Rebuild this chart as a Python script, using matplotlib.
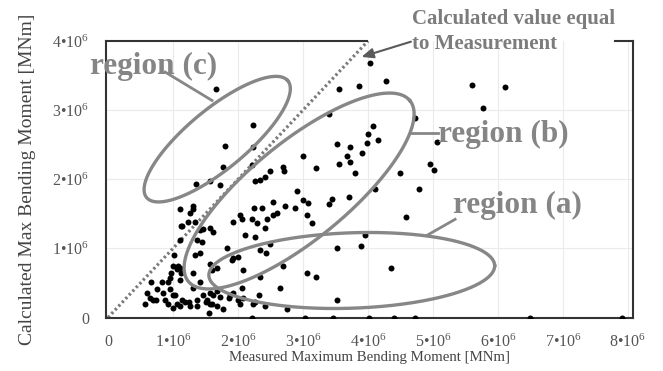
import numpy as np
import matplotlib
matplotlib.use("Agg")
import matplotlib.pyplot as plt

plt.rcParams.update({
    "font.family": ["Liberation Serif", "DejaVu Serif"],
    "mathtext.fontset": "custom",
    "mathtext.rm": "Liberation Serif",
    "mathtext.it": "Liberation Serif:italic",
    "mathtext.bf": "Liberation Serif:bold",
})

SCALE = 1e6  # values below are in units of 10^6 MNm

# Measured vs calculated maximum bending moment (x 10^6 MNm)
measured = [
    4.03, 3.55, 3.86, 4.28, 1.66, 5.60, 6.11, 5.77, 4.72, 5.06, 4.95, 5.02, 4.78, 4.11,
    3.40, 2.23, 1.80, 2.23, 1.77, 2.22, 1.35, 1.57, 1.72, 2.26, 4.08, 4.00, 3.98, 4.15,
    3.52, 3.72, 3.68, 3.91, 3.00, 3.55, 3.72, 3.20, 3.80, 4.49, 2.69, 2.71, 2.49, 2.42,
    2.34, 3.71, 3.45, 3.40, 3.00, 3.08, 3.06, 3.14, 4.58, 3.95, 3.89, 3.52, 4.35, 3.06,
    3.20, 3.52, 2.91, 2.54, 2.72, 2.88, 2.25, 2.37, 2.03, 1.92, 2.06, 2.22, 2.29, 2.45,
    2.42, 2.54, 2.11, 2.26, 1.83, 2.34, 2.43, 2.49, 1.62, 1.57, 1.46, 1.34, 1.26, 1.31,
    1.31, 1.11, 1.12, 1.37, 1.45, 1.34, 1.02, 1.00, 1.08, 0.97, 1.12, 1.31, 1.11, 0.92,
    1.11, 0.83, 0.66, 0.75, 0.60, 0.85, 0.57, 0.69, 0.88, 0.92, 1.03, 1.06, 1.11, 1.18,
    1.25, 1.37, 1.42, 1.57, 1.68, 1.51, 1.57, 1.55, 1.72, 1.68, 1.77, 1.86, 1.92, 2.00,
    2.03, 2.08, 2.26, 2.32, 2.65, 2.75, 2.69, 2.08, 2.34, 1.92, 2.00, 1.68, 1.42, 1.42,
    1.23, 1.14, 1.11, 1.57, 1.06, 0.95, 0.95, 1.31, 0.65, 0.74, 1.00, 1.14, 1.46, 1.52,
    1.00, 1.26, 1.37, 2.60, 1.91, 1.60, 2.06, 1.88, 2.23, 1.62, 2.42, 1.60,
    2.22, 3.03, 3.46, 4.02, 4.40, 4.72, 6.49, 7.91,
]
calculated = [
    3.68, 3.30, 3.35, 3.42, 3.30, 3.36, 3.33, 3.03, 2.88, 2.54, 2.22, 2.13, 1.86, 1.86,
    2.94, 2.78, 2.48, 2.46, 2.17, 2.20, 1.93, 1.97, 1.91, 1.97, 2.77, 2.65, 2.52, 2.57,
    2.51, 2.46, 2.33, 2.38, 2.33, 2.22, 2.25, 2.16, 2.09, 2.09, 2.17, 2.12, 2.12, 2.03,
    1.99, 1.75, 1.72, 1.64, 1.70, 1.65, 1.49, 1.36, 1.46, 1.19, 1.03, 1.01, 0.72, 0.65,
    0.59, 0.26, 1.83, 1.67, 1.62, 1.58, 1.58, 1.58, 1.48, 1.38, 1.43, 1.43, 1.36, 1.43,
    1.30, 1.49, 1.19, 1.17, 1.01, 0.97, 0.94, 1.06, 1.23, 1.29, 1.28, 1.38, 1.51, 1.57,
    1.62, 1.57, 1.32, 1.12, 1.09, 0.90, 0.90, 0.75, 0.75, 0.65, 0.64, 0.65, 0.72, 0.51,
    0.54, 0.51, 0.51, 0.41, 0.36, 0.36, 0.20, 0.25, 0.25, 0.20, 0.32, 0.20, 0.16, 0.22,
    0.23, 0.26, 0.51, 0.35, 0.39, 0.22, 0.20, 0.06, 0.29, 0.17, 0.13, 0.28, 0.35, 0.26,
    0.20, 0.28, 0.22, 0.33, 0.42, 0.13, 0.74, 0.68, 0.58, 0.86, 0.88, 0.72, 0.94, 1.26,
    1.38, 1.33, 1.12, 0.78, 0.70, 0.57, 0.41, 0.43, 0.28, 0.25, 0.32, 0.25, 0.32, 0.25,
    0.14, 0.17, 0.17, 1.51, 0.83, 0.68, 0.42, 0.32, 0.20, 0.32, 0.17, 0.19,
    0.00, 0.00, 0.00, 0.00, 0.00, 0.00, 0.00, 0.00,
]

x_ticks = [0, 1, 2, 3, 4, 5, 6, 7, 8]
y_ticks = [0, 1, 2, 3, 4]

# Highlighted regions: (label, centre x, centre y, semi-major, semi-minor, angle in degrees)
regions = [
    ("region (a)", 3.75, 0.68, 2.20, 0.58, 2.0),
    ("region (b)", 2.94, 1.83, 2.20, 0.75, 39.2),
    ("region (c)", 1.68, 2.58, 1.41, 0.46, 39.6),
]

GRAY = "#858585"
W, H = 663, 371
fig = plt.figure(figsize=(W / 100, H / 100), dpi=100)
ax = fig.add_axes([106 / W, (H - 317.5) / H, (633 - 106) / W, (317.5 - 41) / H])

x_lo, x_hi = -0.031, 8.077
y_lo, y_hi = 0.0, 4.0
ax.set_xlim(x_lo * SCALE, x_hi * SCALE)
ax.set_ylim(y_lo * SCALE, y_hi * SCALE)

# light grid
for v in x_ticks[1:]:
    ax.axvline(v * SCALE, color="#ebebeb", lw=0.8, zorder=0)
for v in y_ticks[1:4]:
    ax.axhline(v * SCALE, color="#ebebeb", lw=0.8, zorder=0)

# identity line
ident = np.array([0, 4.0]) * SCALE
ax.plot(ident, ident, color="#7a7a7a", lw=2.3, ls=(0, (0.75, 0.85)), zorder=2,
        solid_capstyle="butt")

# data points
ax.plot(np.array(measured) * SCALE, np.array(calculated) * SCALE, "o",
        color="black", ms=4.3, mew=0, zorder=3)

# ellipses drawn in a space where both axes share the same pixel scale
bbox = ax.get_position()
px_x = bbox.width * W / (x_hi - x_lo)
px_y = bbox.height * H / (y_hi - y_lo)
ratio = px_x / px_y
t = np.linspace(0, 2 * np.pi, 400)
for label, cx, cy, a, b, ang in regions:
    th = np.deg2rad(ang)
    dx = a * np.cos(th) * np.cos(t) - b * np.sin(th) * np.sin(t)
    dy = a * np.sin(th) * np.cos(t) + b * np.cos(th) * np.sin(t)
    ax.plot((cx + dx) * SCALE, (cy + dy * ratio) * SCALE, color="#878787",
            lw=2.4, zorder=4)

# region labels and leader lines
label_style = dict(fontsize=22.5, fontweight="bold", color=GRAY, zorder=6,
                   va="baseline", ha="left", clip_on=False)
ax.text(-0.28 * SCALE, 3.52 * SCALE, "region (c)", **label_style)
ax.plot(np.array([0.88, 1.60]) * SCALE, np.array([3.55, 3.14]) * SCALE,
        color="#878787", lw=2.0, zorder=5, clip_on=False)
ax.text(5.08 * SCALE, 2.54 * SCALE, "region (b)", **label_style)
ax.plot(np.array([4.66, 5.08]) * SCALE, np.array([2.67, 2.67]) * SCALE,
        color="#878787", lw=2.0, zorder=5)
ax.text(5.30 * SCALE, 1.51 * SCALE, "region (a)", **label_style)
ax.plot(np.array([4.91, 5.34]) * SCALE, np.array([1.19, 1.42]) * SCALE,
        color="#878787", lw=2.0, zorder=5)

# identity line callout
note_style = dict(fontsize=15, fontweight="bold", color="#7c7c7c", zorder=6,
                  va="baseline", ha="left", clip_on=False)
ax.text(4.68 * SCALE, 4.24 * SCALE, "Calculated value equal", **note_style)
ax.text(4.68 * SCALE, 3.88 * SCALE, "to Measurement", **note_style)
ax.annotate("", xy=(3.90 * SCALE, 3.77 * SCALE), xytext=(4.66 * SCALE, 3.99 * SCALE),
            arrowprops=dict(arrowstyle="-|>,head_length=0.7,head_width=0.3",
                            color="#5a5a5a", lw=1.5, shrinkA=0, shrinkB=0),
            annotation_clip=False, zorder=6)

# frame: top edge is interrupted by the callout
for side in ["left", "bottom", "right", "top"]:
    ax.spines[side].set_color("#333333")
    ax.spines[side].set_linewidth(1.5)
ax.spines["top"].set_bounds(x_lo * SCALE, 3.98 * SCALE)
ax.plot(np.array([7.80, x_hi]) * SCALE, np.array([y_hi, y_hi]) * SCALE,
        color="#333333", lw=1.5, clip_on=False, zorder=5, solid_capstyle="projecting")

def tick_text(k):
    return "0" if k == 0 else "$\\mathregular{" + f"{k}•10^{{6}}" + "}$"

ax.set_xticks([v * SCALE for v in x_ticks])
ax.set_xticklabels([tick_text(v) for v in x_ticks])
ax.set_yticks([v * SCALE for v in y_ticks])
ax.set_yticklabels([tick_text(v) for v in y_ticks])
ax.tick_params(axis="both", length=0, labelsize=11.5, labelcolor="#555555")
ax.tick_params(axis="x", pad=12)
ax.tick_params(axis="y", pad=12)

ax.set_xlabel("Measured Maximum Bending Moment [MNm]", fontsize=10.7, color="#444444")
ax.set_ylabel("Calculated Max Bending Moment [MNm]", fontsize=14, color="#444444")
ax.xaxis.set_label_coords(0.5, (317.5 - 351) / (317.5 - 41))
ax.yaxis.set_label_coords((36 - 106) / (633 - 106), 0.5)

fig.savefig("out.png", dpi=100)
